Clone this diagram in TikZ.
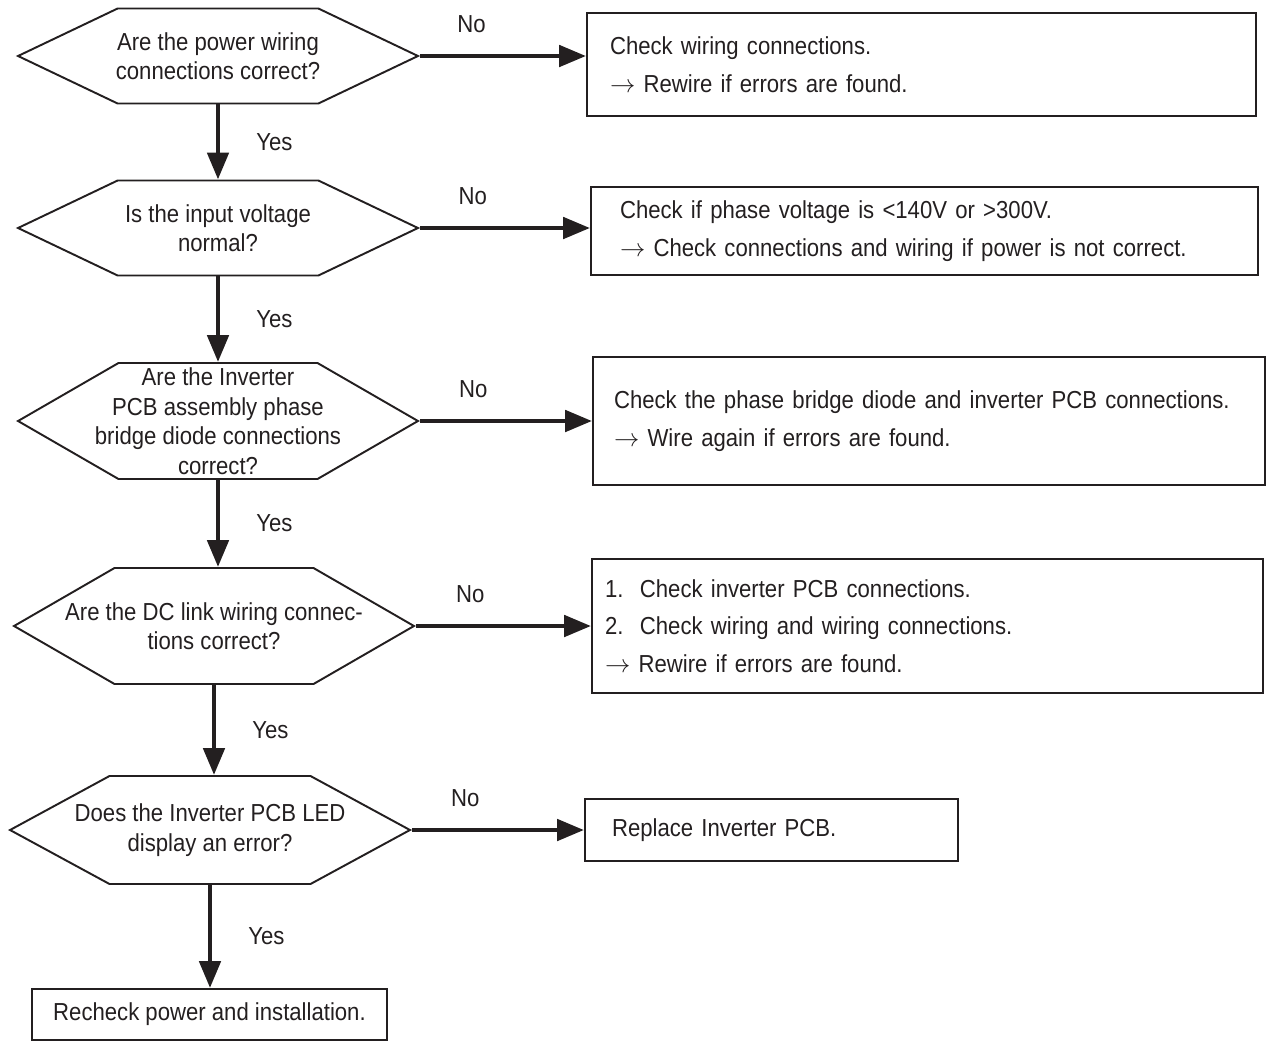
\documentclass[tikz,border=0pt]{standalone}
\usepackage{fontspec}
\setmainfont{Liberation Sans}[FakeStretch=0.9]
\usepackage{tikz}
\usetikzlibrary{shapes.symbols, arrows.meta, positioning, calc}
\definecolor{ink}{HTML}{231F20}
\tikzset{
    query/.style={signal, signal to=west and east, draw=ink, line width=1.1pt, align=center, text=ink, font=\fontsize{14}{16.8}\selectfont, minimum width=8cm, inner xsep=-1.5cm, inner ysep=0pt},
    remedy/.style={draw=ink, line width=1.1pt, align=left, text=ink, font=\fontsize{14}{21.5}\selectfont, inner ysep=0pt},
    flow/.style={-{Triangle[length=0.54cm, width=0.42cm]}, line width=2.8pt, draw=ink},
    tag/.style={text=ink, font=\fontsize{14}{16.8}\selectfont}
}
\newcommand{\then}{$\rightarrow$}

\begin{document}
\begin{tikzpicture}[x=0.02cm, y=-0.02cm]
    \useasboundingbox (0,0) rectangle (1271,1042);

    % Questions (left column)
    \node[query, minimum height=1.9cm, signal pointer angle=51] (q1) at (218,56) {Are the power wiring\\connections correct?};
    \node[query, minimum height=1.9cm, signal pointer angle=51] (q2) at (218,228) {Is the input voltage\\normal?};
    \node[query, minimum height=2.32cm, signal pointer angle=60] (q3) at (218,421) {Are the Inverter\\PCB assembly phase\\bridge diode connections\\correct?};
    \node[query, minimum height=2.32cm, signal pointer angle=60] (q4) at (214,626) {Are the DC link wiring connec-\\tions correct?};
    \node[query, minimum height=2.16cm, signal pointer angle=57] (q5) at (210,830) {Does the Inverter PCB LED\\display an error?};
    \node[remedy, align=center, minimum width=7.1cm, minimum height=1.02cm] (done) at (209.5,1014.5) {Recheck power and installation.};

    % Remedies (right column)
    \node[remedy, minimum height=2.06cm, inner xsep=0.46cm, text width=12.46cm] (a1) at (921.5,64.5) {Check wiring connections.\\\then{} Rewire if errors are found.};
    \node[remedy, minimum height=1.76cm, inner xsep=0.58cm, text width=12.18cm] (a2) at (924.5,231) {Check if phase voltage is <140V or >300V.\\\then{} Check connections and wiring if power is not correct.};
    \node[remedy, minimum height=2.56cm, inner xsep=0.42cm, text width=12.6cm] (a3) at (929,421) {Check the phase bridge diode and inverter PCB connections.\\\then{} Wire again if errors are found.};
    \node[remedy, minimum height=2.68cm, inner xsep=0.26cm, text width=12.9cm] (a4) at (927.5,626) {1.\ \ Check inverter PCB connections.\\2.\ \ Check wiring and wiring connections.\\\then{} Rewire if errors are found.};
    \node[remedy, minimum height=1.24cm, inner xsep=0.54cm, text width=6.38cm] (a5) at (771.5,830) {Replace Inverter PCB.};

    % Yes path
    \draw[flow] (q1.south) -- node[tag, right=0.6cm] {Yes} (q2.north);
    \draw[flow] (q2.south) -- node[tag, right=0.6cm] {Yes} (q3.north);
    \draw[flow] (q3.south) -- node[tag, right=0.6cm] {Yes} (q3.south |- q4.north);
    \draw[flow] (q4.south) -- node[tag, right=0.6cm] {Yes} (q4.south |- q5.north);
    \draw[flow] (q5.south) -- node[tag, right=0.6cm] {Yes} (q5.south |- done.north);

    % No path
    \draw[flow] (q1.east) -- node[tag, pos=0.31, above=0.3cm] {No} (q1.east -| a1.west);
    \draw[flow] (q2.east) -- node[tag, pos=0.31, above=0.3cm] {No} (q2.east -| a2.west);
    \draw[flow] (q3.east) -- node[tag, pos=0.31, above=0.3cm] {No} (q3.east -| a3.west);
    \draw[flow] (q4.east) -- node[tag, pos=0.31, above=0.3cm] {No} (q4.east -| a4.west);
    \draw[flow] (q5.east) -- node[tag, pos=0.31, above=0.3cm] {No} (q5.east -| a5.west);
\end{tikzpicture}
\end{document}
